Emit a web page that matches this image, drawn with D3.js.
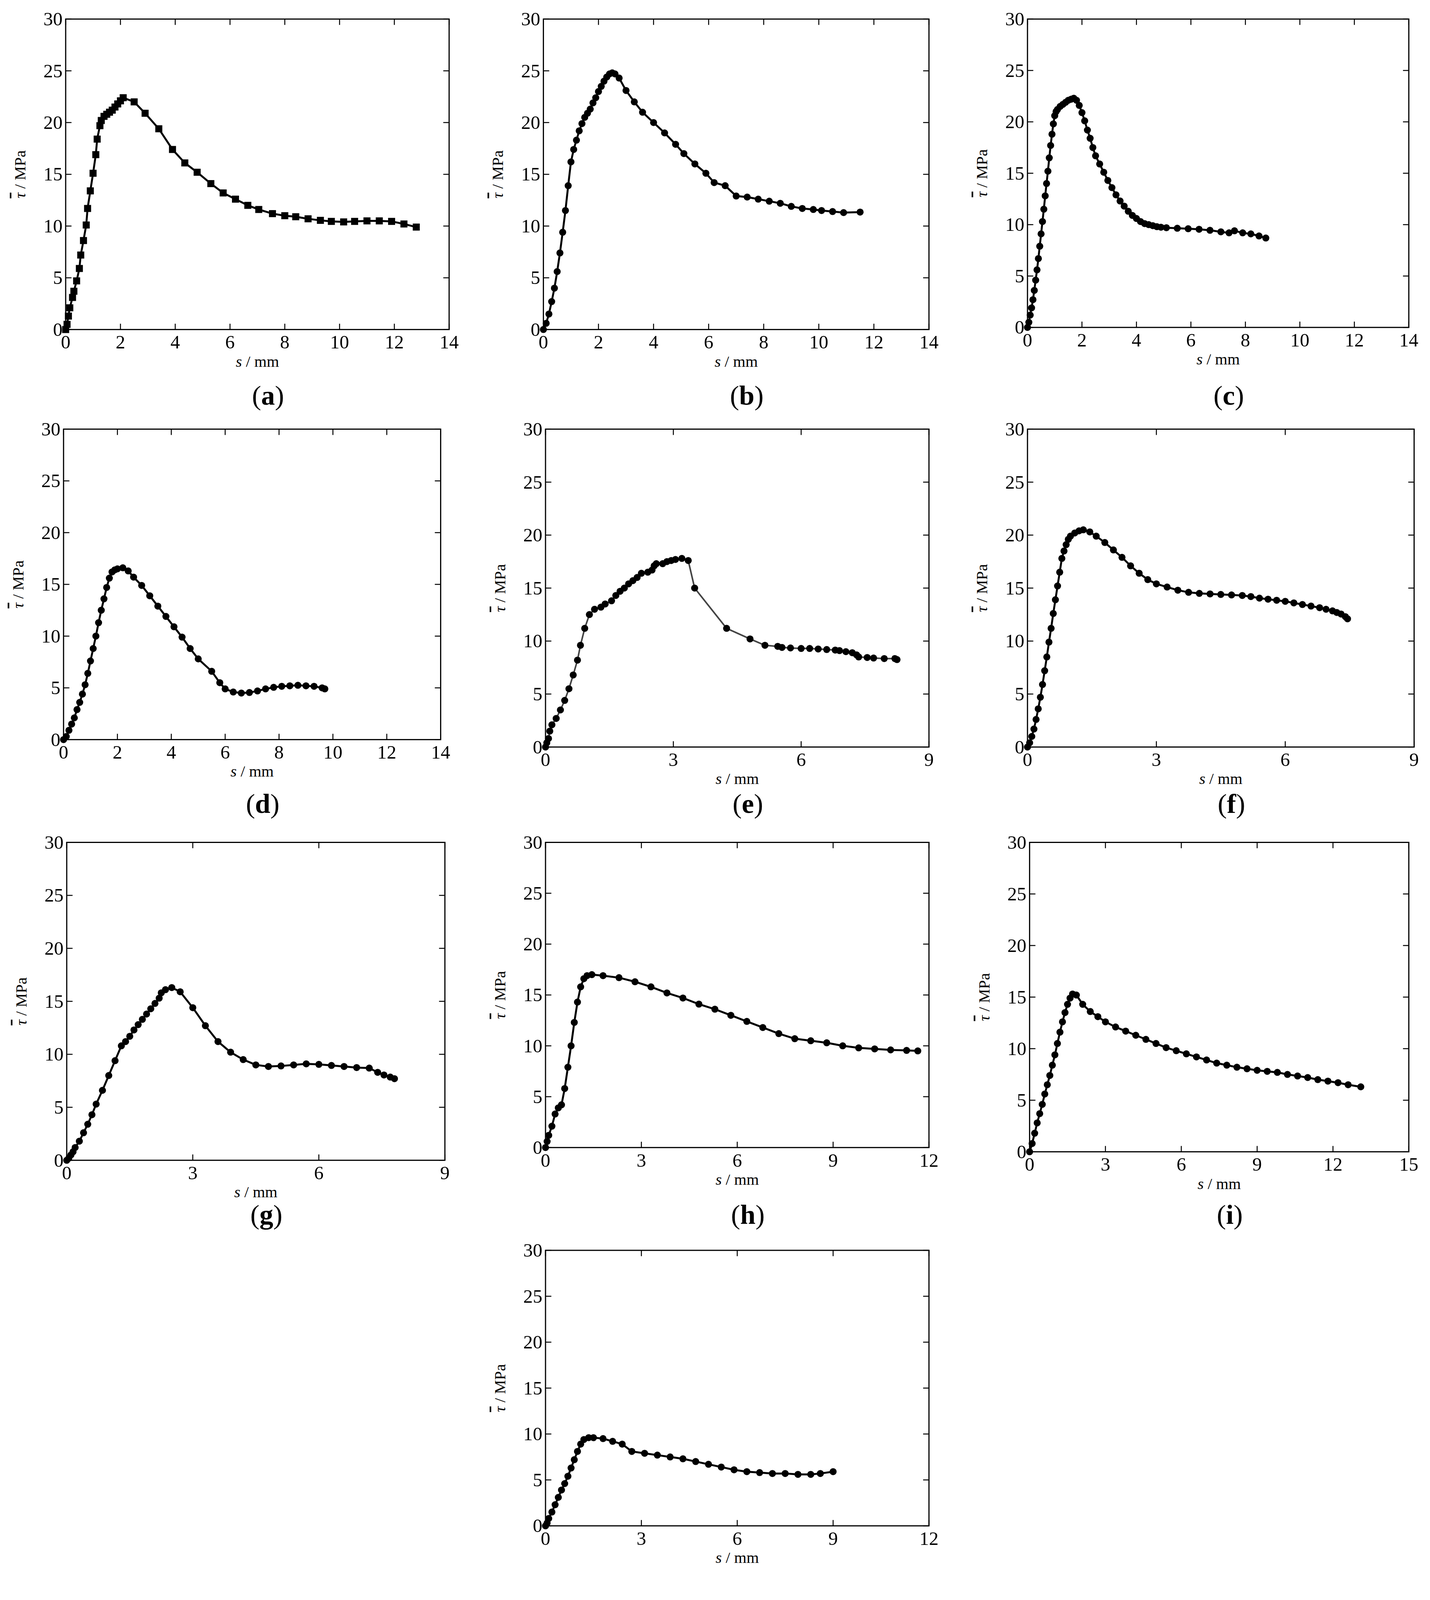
<!DOCTYPE html>
<html><head><meta charset="utf-8">
<script src="https://cdn.jsdelivr.net/npm/d3@7"></script>
<style>body{margin:0;background:#fff}</style></head>
<body><svg id="c" width="3662" height="4204"></svg>
<script>
const panelLabels=["a","b","c","d","e","f","g","h","i","j"];
const xMax=[14,14,14,14,9,9,9,12,15,12];
const xStep=[2,2,2,2,3,3,3,3,3,3];
const yTicks=[0,5,10,15,20,25,30];
const sA=[[0,0],[0.05,0.5],[0.1,1.3],[0.15,2.1],[0.25,3.1],[0.3,3.7],[0.4,4.7],[0.5,5.9],[0.55,7.2],[0.65,8.6],[0.75,10.1],[0.8,11.7],[0.9,13.4],[1.0,15.1],[1.1,16.9],[1.15,18.4],[1.25,19.7],[1.3,20.2],[1.4,20.6],[1.5,20.8],[1.6,21.0],[1.7,21.2],[1.8,21.5],[1.9,21.8],[2.0,22.1],[2.1,22.4],[2.5,22.0],[2.9,20.9],[3.4,19.4],[3.9,17.4],[4.35,16.1],[4.8,15.2],[5.3,14.1],[5.75,13.2],[6.2,12.6],[6.65,12.0],[7.05,11.6],[7.55,11.2],[8.0,11.0],[8.4,10.9],[8.85,10.7],[9.3,10.55],[9.7,10.45],[10.15,10.4],[10.55,10.45],[11.0,10.5],[11.45,10.5],[11.9,10.45],[12.35,10.2],[12.8,9.9]];
const sB=[[0,0],[0.1,0.6],[0.2,1.5],[0.3,2.7],[0.4,4.0],[0.5,5.6],[0.6,7.4],[0.7,9.4],[0.8,11.5],[0.9,13.9],[1.0,16.2],[1.1,17.4],[1.2,18.3],[1.3,19.2],[1.4,19.9],[1.5,20.5],[1.6,20.9],[1.7,21.3],[1.8,21.9],[1.9,22.4],[2.0,23.0],[2.1,23.5],[2.2,24.0],[2.3,24.4],[2.4,24.7],[2.5,24.8],[2.6,24.7],[2.75,24.3],[3.0,23.1],[3.3,22.0],[3.6,21.0],[4.0,20.0],[4.4,19.0],[4.8,17.9],[5.1,17.0],[5.5,16.0],[5.9,15.1],[6.2,14.2],[6.6,13.9],[7.0,12.9],[7.4,12.8],[7.8,12.6],[8.2,12.4],[8.6,12.2],[9.0,11.9],[9.4,11.7],[9.8,11.6],[10.1,11.5],[10.5,11.4],[10.9,11.3],[11.5,11.35]];
const sC=[[0,0],[0.05,0.5],[0.1,1.2],[0.15,1.9],[0.2,2.7],[0.25,3.6],[0.3,4.6],[0.35,5.6],[0.4,6.7],[0.45,7.9],[0.5,9.1],[0.55,10.3],[0.6,11.5],[0.65,12.8],[0.7,14.0],[0.75,15.2],[0.8,16.5],[0.85,17.7],[0.9,18.8],[0.95,19.8],[1.0,20.6],[1.05,21.0],[1.1,21.2],[1.2,21.5],[1.3,21.7],[1.4,21.9],[1.5,22.1],[1.6,22.2],[1.7,22.3],[1.8,22.1],[1.9,21.6],[2.0,20.9],[2.1,20.1],[2.2,19.2],[2.3,18.4],[2.4,17.5],[2.5,16.7],[2.65,15.9],[2.8,15.1],[2.95,14.3],[3.1,13.6],[3.25,12.9],[3.4,12.3],[3.55,11.8],[3.7,11.3],[3.85,10.9],[4.0,10.6],[4.15,10.3],[4.3,10.1],[4.45,10.0],[4.6,9.9],[4.75,9.8],[4.9,9.75],[5.1,9.7],[5.5,9.65],[5.9,9.6],[6.3,9.55],[6.7,9.45],[7.1,9.3],[7.4,9.2],[7.6,9.4],[7.9,9.2],[8.2,9.1],[8.5,8.9],[8.75,8.7]];
const sD=[[0,0],[0.1,0.3],[0.2,0.9],[0.3,1.5],[0.4,2.1],[0.5,2.9],[0.6,3.6],[0.7,4.4],[0.8,5.3],[0.9,6.4],[1.0,7.6],[1.1,8.8],[1.2,10.0],[1.3,11.3],[1.4,12.5],[1.5,13.6],[1.6,14.7],[1.7,15.6],[1.8,16.2],[1.9,16.4],[2.0,16.5],[2.2,16.6],[2.4,16.3],[2.6,15.7],[2.9,14.9],[3.2,13.9],[3.5,12.9],[3.8,11.9],[4.1,10.9],[4.4,9.9],[4.7,8.8],[5.0,7.8],[5.5,6.6],[5.8,5.5],[6.0,4.9],[6.3,4.6],[6.6,4.5],[6.9,4.55],[7.2,4.7],[7.5,4.9],[7.8,5.05],[8.1,5.15],[8.4,5.2],[8.7,5.25],[9.0,5.2],[9.3,5.15],[9.6,5.0],[9.7,4.9]];
const sE=[[0,0],[0.03,0.4],[0.07,0.8],[0.1,1.5],[0.15,2.1],[0.25,2.7],[0.35,3.5],[0.45,4.4],[0.55,5.5],[0.65,6.8],[0.75,8.2],[0.82,9.6],[0.92,11.2],[1.03,12.5],[1.15,13.0],[1.3,13.2],[1.4,13.5],[1.55,13.8],[1.65,14.3],[1.75,14.7],[1.85,15.0],[1.95,15.4],[2.05,15.7],[2.15,16.0],[2.25,16.4],[2.4,16.5],[2.5,16.7],[2.55,17.1],[2.6,17.3],[2.75,17.3],[2.85,17.5],[2.95,17.6],[3.05,17.7],[3.2,17.8],[3.35,17.6],[3.5,15.0],[4.25,11.2],[4.8,10.2],[5.15,9.6],[5.45,9.5],[5.55,9.4],[5.75,9.35],[6.0,9.3],[6.2,9.3],[6.4,9.25],[6.6,9.2],[6.8,9.15],[6.9,9.1],[7.05,9.0],[7.2,8.9],[7.3,8.7],[7.35,8.5],[7.55,8.45],[7.7,8.4],[7.95,8.35],[8.2,8.35],[8.25,8.25]];
const sF=[[0,0],[0.05,0.4],[0.1,1.0],[0.15,1.7],[0.2,2.6],[0.25,3.6],[0.3,4.7],[0.35,5.9],[0.4,7.2],[0.45,8.5],[0.5,9.9],[0.55,11.2],[0.6,12.6],[0.65,13.9],[0.7,15.2],[0.75,16.5],[0.8,17.8],[0.85,18.5],[0.9,19.1],[0.95,19.6],[1.0,19.9],[1.1,20.2],[1.2,20.4],[1.3,20.5],[1.45,20.3],[1.6,19.9],[1.8,19.3],[2.0,18.6],[2.2,17.9],[2.4,17.1],[2.6,16.4],[2.8,15.8],[3.0,15.4],[3.25,15.1],[3.5,14.8],[3.75,14.6],[4.0,14.5],[4.25,14.45],[4.5,14.4],[4.75,14.35],[5.0,14.3],[5.2,14.2],[5.4,14.05],[5.6,13.95],[5.8,13.85],[6.0,13.75],[6.2,13.6],[6.4,13.45],[6.6,13.3],[6.8,13.15],[6.95,13.0],[7.1,12.85],[7.2,12.7],[7.3,12.55],[7.4,12.3],[7.45,12.1]];
const sG=[[0,0],[0.05,0.2],[0.1,0.5],[0.15,0.8],[0.2,1.2],[0.3,1.8],[0.4,2.6],[0.5,3.4],[0.6,4.3],[0.7,5.3],[0.85,6.6],[1.0,8.0],[1.15,9.4],[1.3,10.8],[1.4,11.2],[1.5,11.7],[1.6,12.3],[1.7,12.8],[1.8,13.3],[1.9,13.8],[2.0,14.3],[2.1,14.8],[2.2,15.3],[2.25,15.8],[2.35,16.1],[2.5,16.3],[2.7,15.9],[3.0,14.4],[3.3,12.7],[3.6,11.2],[3.9,10.2],[4.2,9.5],[4.5,9.0],[4.8,8.85],[5.1,8.9],[5.4,9.0],[5.7,9.1],[6.0,9.05],[6.3,8.95],[6.6,8.85],[6.9,8.75],[7.2,8.7],[7.4,8.3],[7.55,8.05],[7.7,7.85],[7.8,7.7]];
const sH=[[0,0],[0.05,0.6],[0.1,1.2],[0.2,2.1],[0.3,3.3],[0.4,3.9],[0.5,4.2],[0.6,5.8],[0.7,7.9],[0.8,10.0],[0.9,12.3],[1.0,14.3],[1.1,15.8],[1.2,16.6],[1.3,16.9],[1.45,17.0],[1.8,16.9],[2.3,16.7],[2.8,16.3],[3.3,15.8],[3.8,15.2],[4.3,14.7],[4.8,14.1],[5.3,13.6],[5.8,13.0],[6.3,12.4],[6.8,11.8],[7.3,11.2],[7.8,10.7],[8.3,10.5],[8.8,10.3],[9.3,10.0],[9.8,9.8],[10.3,9.7],[10.8,9.6],[11.3,9.55],[11.65,9.5]];
const sI=[[0,0],[0.1,0.8],[0.2,1.8],[0.3,2.8],[0.4,3.7],[0.5,4.6],[0.6,5.6],[0.7,6.5],[0.8,7.4],[0.9,8.4],[1.0,9.4],[1.1,10.5],[1.2,11.6],[1.3,12.6],[1.4,13.5],[1.5,14.3],[1.6,14.9],[1.7,15.3],[1.85,15.2],[2.1,14.3],[2.4,13.6],[2.7,13.1],[3.0,12.6],[3.4,12.1],[3.8,11.7],[4.2,11.3],[4.6,10.9],[5.0,10.5],[5.4,10.1],[5.8,9.8],[6.2,9.5],[6.6,9.2],[7.0,8.9],[7.4,8.6],[7.8,8.4],[8.2,8.2],[8.6,8.05],[9.0,7.9],[9.4,7.8],[9.8,7.7],[10.2,7.5],[10.6,7.35],[11.0,7.2],[11.4,7.0],[11.8,6.85],[12.2,6.7],[12.6,6.5],[13.1,6.3]];
const sJ=[[0,0],[0.05,0.3],[0.1,0.8],[0.2,1.5],[0.3,2.3],[0.4,3.1],[0.5,3.9],[0.6,4.6],[0.7,5.4],[0.8,6.3],[0.9,7.2],[1.0,8.1],[1.1,8.9],[1.2,9.4],[1.35,9.6],[1.5,9.6],[1.8,9.5],[2.1,9.2],[2.4,8.9],[2.7,8.1],[3.1,7.9],[3.5,7.7],[3.9,7.5],[4.3,7.3],[4.7,7.0],[5.1,6.7],[5.5,6.4],[5.9,6.1],[6.3,5.9],[6.7,5.8],[7.1,5.7],[7.5,5.7],[7.9,5.6],[8.3,5.6],[8.6,5.7],[9.0,5.9]];
const series=[sA,sB,sC,sD,sE,sF,sG,sH,sI,sJ];
const S=3662/1350;
const boxes=[[62,424,18,311],[513,877,18,311],[970,1330,18,309],[60,416,405,698],[515,877,405,705],[970,1335,405,705],[63,420,795,1095],[515,877,795,1083],[972,1330,795,1087],[515,877,1180,1440]];
const labY=[382,382,382,767,767,767,1155,1155,1155,1540];
const svg=d3.select("#c");
const font="'Liberation Serif','Times New Roman',serif";
series.forEach((data,k)=>{
  const [x0,x1,y0,y1]=boxes[k].map(v=>v*S);
  const x=d3.scaleLinear().domain([0,xMax[k]]).range([x0,x1]);
  const y=d3.scaleLinear().domain([0,30]).range([y1,y0]);
  const g=svg.append("g");
  const xt=d3.range(0,xMax[k]+0.001,xStep[k]);
  const tl=10*S*0.55;
  g.append("rect").attr("x",x0).attr("y",y0).attr("width",x1-x0).attr("height",y1-y0).attr("fill","none").attr("stroke","#000").attr("stroke-width",3);
  xt.forEach(t=>{
    g.append("line").attr("x1",x(t)).attr("x2",x(t)).attr("y1",y0).attr("y2",y0+tl).attr("stroke","#000").attr("stroke-width",2.5);
    g.append("line").attr("x1",x(t)).attr("x2",x(t)).attr("y1",y1).attr("y2",y1-tl).attr("stroke","#000").attr("stroke-width",2.5);
    g.append("text").attr("x",x(t)).attr("y",y1+18*S).attr("text-anchor","middle").attr("font-family",font).attr("font-size",18*S).text(t);
  });
  yTicks.forEach(t=>{
    g.append("line").attr("x1",x1).attr("x2",x1-tl).attr("y1",y(t)).attr("y2",y(t)).attr("stroke","#000").attr("stroke-width",2.5);
    g.append("line").attr("x1",x0).attr("x2",x0+tl).attr("y1",y(t)).attr("y2",y(t)).attr("stroke","#000").attr("stroke-width",2.5);
    g.append("text").attr("x",x0-3*S).attr("y",y(t)+6*S).attr("text-anchor","end").attr("font-family",font).attr("font-size",18*S).text(t);
  });
  const xl=g.append("text").attr("x",(x0+x1)/2).attr("y",y1+35*S).attr("text-anchor","middle").attr("font-family",font).attr("font-size",15*S);
  xl.append("tspan").attr("font-style","italic").text("s");xl.append("tspan").text(" / mm");
  const yl=g.append("text").attr("transform",`translate(${x0-38*S},${(y0+y1)/2}) rotate(-90)`).attr("text-anchor","middle").attr("font-family",font).attr("font-size",15*S);
  yl.append("tspan").attr("font-style","italic").attr("text-decoration","overline").text("τ");yl.append("tspan").text(" / MPa");
  g.append("path").datum(data).attr("d",d3.line().x(d=>x(d[0])).y(d=>y(d[1]))).attr("fill","none").attr("stroke",k===4?"#444":"#000").attr("stroke-width",k===4?4:5);
  if(k===0){
    g.selectAll("rect.m").data(data).join("rect").attr("x",d=>x(d[0])-9).attr("y",d=>y(d[1])-9).attr("width",18).attr("height",18).attr("fill","#000");
  } else {
    g.selectAll("circle").data(data).join("circle").attr("cx",d=>x(d[0])).attr("cy",d=>y(d[1])).attr("r",9).attr("fill","#000");
  }
  const lab=g.append("text").attr("x",(x0+x1)/2+10*S).attr("y",labY[k]*S).attr("text-anchor","middle").attr("font-family","'Liberation Serif',serif").attr("font-size",26*S);
  lab.append("tspan").text("(");lab.append("tspan").attr("font-weight","bold").text(panelLabels[k]);lab.append("tspan").text(")");
});
</script></body></html>
